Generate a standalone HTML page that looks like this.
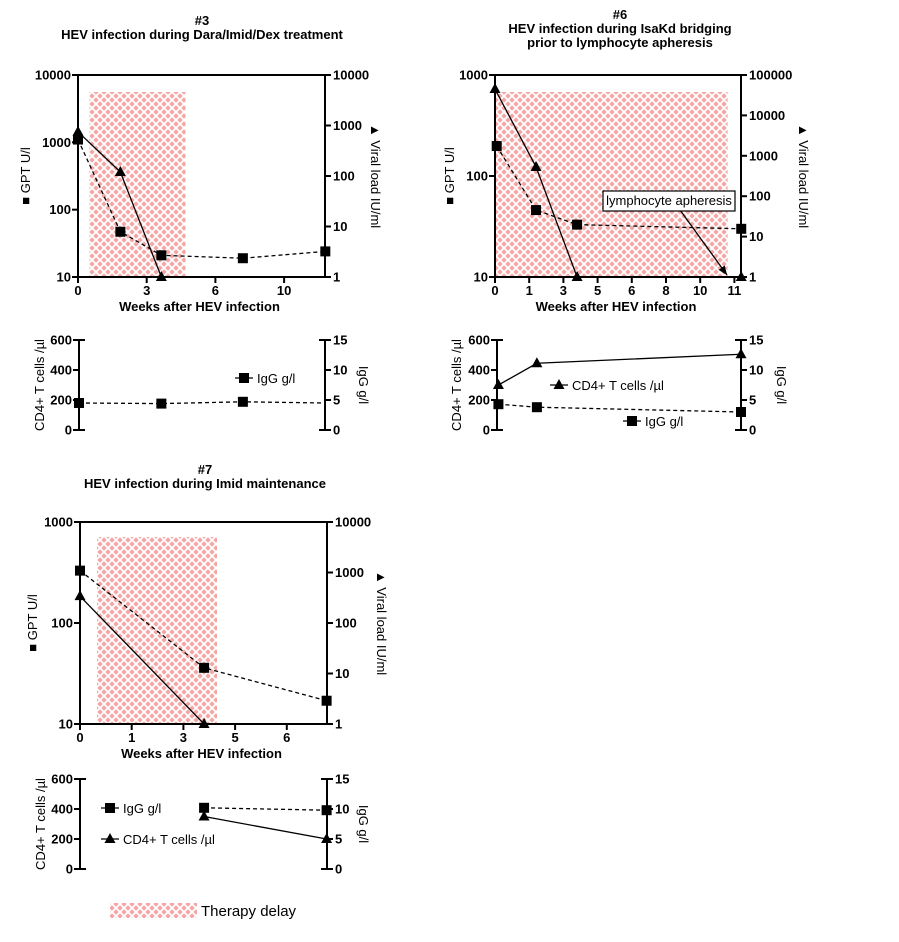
<!DOCTYPE html>
<html><head><meta charset="utf-8">
<style>
html,body{margin:0;padding:0;background:#fff;}
svg{display:block;font-family:"Liberation Sans",Arial,sans-serif;}
.t{font-weight:bold;font-size:13px;}
.tk{font-weight:bold;font-size:13px;}
.yt{font-size:13px;}
.lg{font-size:13px;}
</style></head>
<body>
<svg id="fig" width="899" height="942" viewBox="0 0 899 942" xmlns="http://www.w3.org/2000/svg">
<defs>
<pattern id="hatch" width="8" height="8" patternUnits="userSpaceOnUse">
<rect width="8" height="8" fill="#f4a6a6"/>
<path d="M0,0 L8,8 M8,0 L0,8" stroke="#fff" stroke-width="1.8"/>
</pattern>
<marker id="arr" markerWidth="8" markerHeight="8" refX="7" refY="4" orient="auto"><path d="M0,1 L7,4 L0,7 z" fill="#000"/></marker>
</defs>
<g id="root"></g>
<g>
<rect x="110" y="903" width="87" height="15" fill="url(#hatch)"/>
<text x="201" y="916" font-size="15">Therapy delay</text>
</g>
</svg>
<script>
// ===== Panel #3 data =====
const p3Ticks = ["0","3","6","10"];
const p3TickVals = [0,3,6,10];
const p3GptWeeks = [0,1.85,3.64,7.6,12.4];
const p3Gpt = [1100,47,21,19,24];
const p3ViralWeeks = [0,1.85,3.64];
const p3Viral = [750,120,1];
const p3IggWeeks = [0,3.64,7.6,12.4];
const p3Igg = [4.5,4.4,4.7,4.5];
const p3Cd4Weeks = [];
const p3Cd4 = [];
const p3Delay = [0.5,4.7];
// ===== Panel #6 data =====
const p6Ticks = ["0","1","3","5","6","8","10","11"];
const p6TickVals = [0,1,3,5,6,8,10,11];
const p6GptWeeks = [0.05,1.4,3.8,11.2];
const p6Gpt = [198,46,33,30];
const p6ViralWeeks = [0,1.4,3.8,11.2];
const p6Viral = [45000,530,1,1];
const p6IggWeeks = [0.1,1.45,11.25];
const p6Igg = [4.3,3.8,3.0];
const p6Cd4Weeks = [0.1,1.45,11.25];
const p6Cd4 = [300,445,505];
const p6Delay = [0,10.8];
// ===== Panel #7 data =====
const p7Ticks = ["0","1","3","5","6"];
const p7TickVals = [0,1,3,5,6];
const p7GptWeeks = [0,3.8,6.77];
const p7Gpt = [330,36,17];
const p7ViralWeeks = [0,3.8];
const p7Viral = [340,1];
const p7IggWeeks = [3.8,6.77];
const p7Igg = [10.2,9.8];
const p7Cd4Weeks = [3.8,6.77];
const p7Cd4 = [350,200];
const p7Delay = [0.33,4.3];

const NS="http://www.w3.org/2000/svg";
const root=document.getElementById('root');
function mk(tag,attrs,parent,txt){const e=document.createElementNS(NS,tag);for(const k in attrs)e.setAttribute(k,attrs[k]);if(txt!==undefined)e.textContent=txt;(parent||root).appendChild(e);return e;}

function xAxisFn(tickVals,x0,step){
  return function(v){
    const n=tickVals.length;
    let i=0;
    while(i<n-2 && v>tickVals[i+1]) i++;
    const a=tickVals[i],b=tickVals[i+1];
    return x0+step*i+(v-a)/(b-a)*step;
  };
}
function logFn(min,max,top,bot){const l0=Math.log10(min),l1=Math.log10(max);return v=>bot-(Math.log10(v)-l0)/(l1-l0)*(bot-top);}
function linFn(min,max,top,bot){return v=>bot-(v-min)/(max-min)*(bot-top);}

function square(g,x,y,name){const r=mk('rect',{x:x-5,y:y-5,width:10,height:10,fill:'#000'},g);}
function tri(g,x,y,name){const p=mk('path',{d:`M${x},${y-6}L${x+5.5},${y+4}L${x-5.5},${y+4}Z`,fill:'#000'},g);}
function line(g,xs,ys,X,Y,dash,name){if(xs.length<2)return;const pts=xs.map((w,i)=>X(w)+','+Y(ys[i])).join(' ');const l=mk('polyline',{points:pts,fill:'none',stroke:'#000','stroke-width':1.3,'stroke-dasharray':dash?'4,3':'none'},g);}

function panel(cfg){
  const g=mk('g',{});
  
  
  cfg.titles.forEach((t,i)=>{const e=mk('text',{x:cfg.tcx,y:cfg.ty+i*14,'text-anchor':'middle',class:'t'},g,t);});
  const L=cfg.L,R=cfg.R,T=cfg.T,B=cfg.B;
  const X=xAxisFn(cfg.tickVals,L,cfg.step);
  const YL=logFn(cfg.lMin,cfg.lMax,T,B), YR=logFn(cfg.rMin,cfg.rMax,T,B);
  const sh=mk('rect',{x:X(cfg.delay[0]),y:cfg.shTop,width:X(cfg.delay[1])-X(cfg.delay[0]),height:B-cfg.shTop,fill:'url(#hatch)'},g);
  
  
  const ax=mk('path',{d:`M${L},${B}V${T}H${R}V${B}H${L}`,fill:'none',stroke:'#000','stroke-width':2},g);
  
  
  for(let v=cfg.lMin;v<=cfg.lMax*1.001;v*=10){const y=YL(v);mk('line',{x1:L-6,x2:L,y1:y,y2:y,stroke:'#000','stroke-width':2},g);const e=mk('text',{x:L-7,y:y+4.5,'text-anchor':'end',class:'tk'},g,String(Math.round(v)));}
  for(let v=cfg.rMin;v<=cfg.rMax*1.001;v*=10){const y=YR(v);mk('line',{x1:R,x2:R+6,y1:y,y2:y,stroke:'#000','stroke-width':2},g);const e=mk('text',{x:R+8,y:y+4.5,class:'tk'},g,String(Math.round(v)));}
  cfg.ticks.forEach((t,i)=>{const x=X(cfg.tickVals[i]);mk('line',{x1:x,x2:x,y1:B,y2:B+6,stroke:'#000','stroke-width':2},g);const e=mk('text',{x:x,y:B+18,'text-anchor':'middle',class:'tk'},g,t);});
  const xt=mk('text',{x:(L+R)/2-2,y:B+34,'text-anchor':'middle',class:'t','font-size':'13'},g,'Weeks after HEV infection');
  
  const ylt=mk('text',{x:0,y:0,transform:`translate(${cfg.ylx},${(T+B)/2}) rotate(-90)`,'text-anchor':'middle',class:'yt'},g,'■ GPT U/l');
  
  const yrt=mk('text',{x:0,y:0,transform:`translate(${cfg.yrx},${(T+B)/2}) rotate(90)`,'text-anchor':'middle',class:'yt'},g,'▲ Viral load IU/ml');
  
  line(g,cfg.gptW,cfg.gpt,X,YL,true,'gpt-line');
  line(g,cfg.virW,cfg.vir,X,YR,false,'viral-load-line');
  cfg.gptW.forEach((w,i)=>square(g,X(w),YL(cfg.gpt[i]),'gpt-point'));
  cfg.virW.forEach((w,i)=>tri(g,X(w),YR(cfg.vir[i]),'viral-load-point'));
  if(cfg.annot){const a=cfg.annot;
    const ar=mk('line',{x1:a.ax1,y1:a.ay1,x2:a.ax2,y2:a.ay2,stroke:'#000','stroke-width':1.3,'marker-end':'url(#arr)'},g);
    const bx=mk('rect',{x:a.x,y:a.y,width:a.w,height:a.h,fill:'#fff',stroke:'#000','stroke-width':1.2},g);
    const at=mk('text',{x:a.x+a.w/2,y:a.y+14,'text-anchor':'middle','font-size':'13'},g,a.text);}
  const l=cfg.low;
  const YC=linFn(0,600,l.T,l.B), YI=linFn(0,15,l.T,l.B);
  const lx=mk('path',{d:`M${l.L+6},${l.T}H${l.L}V${l.B}H${l.L+6}M${R-6},${l.T}H${R}V${l.B}H${R-6}`,fill:'none',stroke:'#000','stroke-width':2},g);
  
  [0,200,400,600].forEach(v=>{const y=YC(v);mk('line',{x1:l.L-6,x2:l.L,y1:y,y2:y,stroke:'#000','stroke-width':2},g);const e=mk('text',{x:l.L-7,y:y+4.5,'text-anchor':'end',class:'tk'},g,String(v));});
  [0,5,10,15].forEach(v=>{const y=YI(v);mk('line',{x1:R,x2:R+6,y1:y,y2:y,stroke:'#000','stroke-width':2},g);const e=mk('text',{x:R+8,y:y+4.5,class:'tk'},g,String(v));});
  const c1=mk('text',{x:0,y:0,transform:`translate(${l.ylx},${(l.T+l.B)/2}) rotate(-90)`,'text-anchor':'middle',class:'yt'},g,'CD4+ T cells /µl');
  
  const c2=mk('text',{x:0,y:0,transform:`translate(${l.yrx},${(l.T+l.B)/2}) rotate(90)`,'text-anchor':'middle',class:'yt'},g,'IgG g/l');
  
  const LX=w=>Math.max(l.L,Math.min(R,X(w)));
  line(g,cfg.iggW,cfg.igg,LX,YI,true,'igg-line');
  line(g,cfg.cd4W,cfg.cd4,LX,YC,false,'cd4-line');
  cfg.iggW.forEach((w,i)=>{ if(!(cfg.iggHideLast && i==cfg.iggW.length-1)) square(g,LX(w),YI(cfg.igg[i]),'igg-point');});
  cfg.cd4W.forEach((w,i)=>tri(g,LX(w),YC(cfg.cd4[i]),'cd4-point'));
  l.legends.forEach(lg=>{
    const lgG=mk('g',{},g);
    mk('line',{x1:lg.x,x2:lg.x+18,y1:lg.y,y2:lg.y,stroke:'#000','stroke-width':1.3,'stroke-dasharray':lg.sq?'4,3':'none'},lgG);
    if(lg.sq) mk('rect',{x:lg.x+4,y:lg.y-5,width:10,height:10,fill:'#000'},lgG); else mk('path',{d:`M${lg.x+9},${lg.y-6}L${lg.x+14.5},${lg.y+4}L${lg.x+3.5},${lg.y+4}Z`,fill:'#000'},lgG);
    mk('text',{x:lg.x+22,y:lg.y+5,class:'lg'},lgG,lg.text);
  });
}

panel({name:'panel-3',titles:['#3','HEV infection during Dara/Imid/Dex treatment'],tcx:202,ty:25,
  L:78,R:325,T:75,B:277,step:68.7,ticks:p3Ticks,tickVals:p3TickVals,lMin:10,lMax:10000,rMin:1,rMax:10000,
  delay:p3Delay,shTop:92,ylx:30,yrx:371,gptW:p3GptWeeks,gpt:p3Gpt,virW:p3ViralWeeks,vir:p3Viral,
  iggW:p3IggWeeks,igg:p3Igg,cd4W:p3Cd4Weeks,cd4:p3Cd4,iggHideLast:true,
  low:{L:79,T:340,B:430,ylx:44,yrx:359,legends:[{x:235,y:378,sq:true,text:'IgG g/l',name:'igg-legend'}]}});

panel({name:'panel-6',titles:['#6','HEV infection during IsaKd bridging','prior to lymphocyte apheresis'],tcx:620,ty:19,
  L:495,R:741,T:75,B:277,step:34.2,ticks:p6Ticks,tickVals:p6TickVals,lMin:10,lMax:1000,rMin:1,rMax:100000,
  delay:p6Delay,shTop:92,ylx:454,yrx:799,gptW:p6GptWeeks,gpt:p6Gpt,virW:p6ViralWeeks,vir:p6Viral,
  iggW:p6IggWeeks,igg:p6Igg,cd4W:p6Cd4Weeks,cd4:p6Cd4,
  annot:{x:603,y:191,w:132,h:20,text:'lymphocyte apheresis',ax1:680,ay1:210,ax2:727,ay2:275},
  low:{L:497,T:340,B:430,ylx:461,yrx:777,legends:[{x:550,y:385,sq:false,text:'CD4+ T cells /µl',name:'cd4-legend'},{x:623,y:421,sq:true,text:'IgG g/l',name:'igg-legend'}]}});

panel({name:'panel-7',titles:['#7','HEV infection during Imid maintenance'],tcx:205,ty:474,
  L:80,R:327,T:522,B:724,step:51.7,ticks:p7Ticks,tickVals:p7TickVals,lMin:10,lMax:1000,rMin:1,rMax:10000,
  delay:p7Delay,shTop:537,ylx:37,yrx:377,gptW:p7GptWeeks,gpt:p7Gpt,virW:p7ViralWeeks,vir:p7Viral,
  iggW:p7IggWeeks,igg:p7Igg,cd4W:p7Cd4Weeks,cd4:p7Cd4,
  low:{L:80,T:779,B:869,ylx:45,yrx:359,legends:[{x:101,y:808,sq:true,text:'IgG g/l',name:'igg-legend'},{x:101,y:839,sq:false,text:'CD4+ T cells /µl',name:'cd4-legend'}]}});
</script>
</body></html>
